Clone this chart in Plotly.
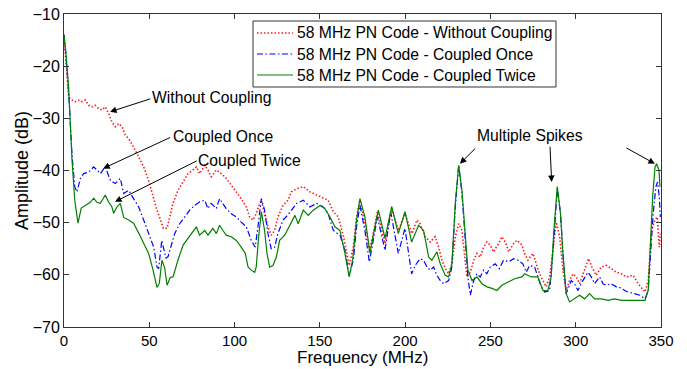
import plotly.graph_objects as go

# ---------------- data ----------------
freq_without = [0, 1, 2, 2.7, 4.7, 6.6, 8.6, 10.6, 12.5, 14.5, 16.4, 18.3, 20.3, 22.3, 24.2, 26.2, 28.1, 30.1, 32.1, 34,
                35.9, 37.9, 40.8, 43.8, 46.7, 49.6, 51.6, 54.5, 57, 58.3, 60.4, 62.3, 63.9, 66.8, 69.8, 72.7, 75.6, 77.6, 79.5, 82.5,
                84.4, 86.3, 89.3, 92.2, 95.1, 98.1, 101, 103.9, 106.9, 108.8, 110.8, 112.7, 114.7, 115.7, 117.6, 119.6, 121.5, 123.5, 125.4, 128.4,
                131.3, 133.3, 136.4, 140.3, 144.2, 148.1, 152, 154.9, 157.9, 160.8, 163.7, 165.7, 167.2, 169.6, 171.5, 173.5, 176.4, 179, 181.3, 183.7,
                188.2, 192.1, 196, 199.9, 204, 206.9, 208.8, 211.8, 214.7, 217.6, 219.6, 221.6, 223.5, 225.5, 227.4, 229.4, 231.4, 233.3, 234.9, 236.2,
                238.2, 240.2, 242.1, 244, 246, 247.9, 249.9, 251.8, 254.8, 256.7, 258.7, 260.7, 263.6, 265.5, 268.5, 270, 272, 274.9, 276.9, 278.8,
                280.8, 282.7, 284.7, 286.6, 288.6, 290.6, 292.5, 294.4, 296.4, 298.4, 300.3, 302.3, 305.2, 307.5, 309.5, 312, 315, 317.9, 320.8, 323.8,
                326.7, 329.8, 333.7, 336.6, 340.6, 342.5, 344.5, 346.4, 347.8, 349, 349.6]
amp_without = [-14, -18, -23, -25.9, -26.5, -26.8, -26.5, -26.8, -26.5, -27.5, -27.8, -27.5, -28.1, -28.4, -27.8, -29.1, -30.7, -31.6, -31, -31.6,
               -33.2, -33.9, -35.5, -37.4, -39.3, -41.9, -44.4, -47.6, -49.9, -51.1, -51.1, -48.3, -46.3, -43.8, -42.2, -40.6, -39.9, -39.3, -40.6, -39,
               -39.9, -41.2, -39.9, -40.6, -41.5, -42.8, -44.1, -45.4, -47, -48.9, -49.5, -48.3, -46.3, -45.7, -48.3, -50.8, -52.4, -51.5, -48.9, -46.7,
               -45.7, -44.1, -43.5, -43.1, -44.1, -44.7, -45.4, -45.7, -47.9, -48.9, -52.4, -55.9, -58.2, -54.7, -48.9, -45.7, -50.2, -55.3, -52.1, -47.9,
               -54, -47.3, -51.5, -48.3, -52.1, -49.5, -50.2, -52.7, -53.7, -52.7, -54.7, -57.2, -58.8, -59.8, -57.9, -52.7, -50.2, -51.5, -55.9, -60.4,
               -59.5, -57.2, -55.9, -56.6, -54.7, -53.7, -54.3, -55.6, -54, -52.7, -53.7, -55.6, -54, -53.4, -54.3, -55.9, -57.2, -55.9, -57.9, -59.8,
               -61.1, -62.3, -60.4, -54.7, -49.9, -52.7, -59.1, -63, -61.1, -59.8, -60.4, -61.7, -59.1, -56.9, -58.5, -60.1, -58.5, -58.2, -58.8, -59.5,
               -59.8, -60.4, -60.1, -61.7, -63.3, -61.1, -51.5, -49.5, -48.9, -54.7, -52.1]

freq_once = [0, 1, 2.7, 4.7, 6.3, 7.6, 9.6, 11.5, 14.5, 17.4, 19.3, 21.3, 24.2, 27.2, 30.1, 33, 35, 37.9, 40.8, 43.8,
             46.7, 49.6, 52.6, 54.5, 55.5, 57.3, 59.8, 61, 64.9, 67.8, 70.8, 73.7, 76.6, 79.5, 82.5, 84.4, 86.3, 89.3, 91.2, 93.2,
             95.1, 98.1, 101, 103.9, 106.9, 109.8, 112.1, 113.7, 115.7, 117.6, 119.6, 121.5, 123.5, 125.4, 128.4, 131.3, 136.4, 140.3, 144.2, 148.1,
             152, 154.9, 157.9, 161.8, 164.7, 167.2, 169.6, 171.5, 173.5, 176.4, 179, 181.3, 183.7, 188.2, 191.5, 196, 199.9, 203.8, 205.9, 208.8,
             210.8, 212.8, 214.7, 216.7, 218.6, 220.6, 222.6, 225.5, 227.4, 229.4, 231.4, 233.3, 234.9, 236.8, 238.2, 240.2, 242.1, 244, 246, 247.9,
             249.9, 252.8, 255.2, 257.7, 260.7, 263.6, 266.3, 269, 271, 273, 275.9, 277.8, 279.8, 281.8, 284.7, 286.6, 289.2, 291.1, 292.5, 294.4,
             297.4, 299.3, 301.3, 304.2, 307.2, 309.1, 311.1, 314, 316, 317.9, 320.8, 323.8, 326.5, 329.7, 333.7, 337.6, 340.6, 342.5, 343.9, 345.4,
             347, 348, 349, 349.6]
amp_once = [-14, -17.5, -25, -37, -43.1, -44.1, -41.5, -40.6, -40.3, -39.3, -39.9, -40.6, -39.3, -41.9, -42.5, -41.5, -44.4, -43.8, -45.4, -47,
            -49.5, -52.1, -54.7, -58.5, -58.8, -53.4, -56.8, -56.5, -52.1, -50.2, -48.9, -47.6, -46.7, -46, -45.7, -47.3, -46.3, -47.3, -45.4, -46.3,
            -47.3, -48.3, -48.9, -49.9, -50.8, -53.4, -54.7, -50.8, -45.4, -47.6, -52.1, -55, -54.7, -52.1, -49.5, -48.5, -46.3, -45.7, -47, -46.3,
            -47, -48.3, -51.5, -52.4, -55.3, -60.1, -57.2, -50.8, -46.7, -51.5, -57.5, -53.4, -48.9, -55.3, -47.9, -55.9, -51.1, -59.8, -58.2, -56.9,
            -57.2, -58.5, -59.1, -58.5, -60.1, -61.1, -61.7, -61.1, -58.5, -47, -39, -44.4, -51.5, -60.4, -63.9, -61.1, -59.8, -60.4, -59.1, -59.8,
            -58.5, -57.9, -58.8, -57.2, -57.5, -56.9, -57.2, -57.9, -59.5, -58.2, -58.5, -60.4, -62.3, -63.3, -63, -55.9, -43.5, -48.3, -55.9, -63.6,
            -61.1, -61.7, -63, -61.1, -59.5, -60.4, -61.7, -60.4, -61.7, -62, -61.7, -62.3, -62.5, -63.2, -63.6, -63.9, -64.6, -63, -55.9, -48.3,
            -43.1, -42.2, -45.1, -48.9]

freq_twice = [0, 1, 2.7, 4.7, 6.3, 8.2, 10.1, 12.5, 15.4, 17.4, 19.3, 21.3, 24.2, 26.2, 28.1, 29.1, 31, 33, 35, 37.9,
              40.8, 43.8, 46.7, 49.6, 52, 54.5, 55.9, 57.4, 59, 60.4, 62.3, 63.9, 66.8, 69.8, 72.7, 75.6, 77.6, 79.5, 82.5, 84.4,
              87.3, 89.3, 91.2, 93.2, 95.1, 98.1, 101, 103.9, 106.3, 107.9, 109.8, 111.8, 112.7, 114.1, 115.7, 117.6, 119, 120.6, 122.5, 124.5,
              126.4, 129.4, 132.5, 135.4, 137.3, 140.3, 143.2, 146.1, 150.1, 153, 155.9, 158.9, 161.8, 164.7, 167.2, 169.2, 171.5, 173.5, 176.4, 179.4,
              181.3, 184.3, 188.2, 192.1, 196, 199.9, 203.8, 207.9, 210.8, 213.8, 215.7, 218.6, 220.6, 223.5, 225.5, 227.4, 229.4, 231.4, 233.3, 234.9,
              236.8, 239.2, 242.1, 245, 248, 250.9, 253.8, 256.7, 260.7, 264.5, 268.5, 270, 273.9, 277.8, 280.8, 283.7, 285.6, 287.2, 289.2, 291.1,
              292.5, 294.4, 296.4, 299.3, 302.3, 305.2, 308.1, 311.1, 315, 318.9, 322.8, 326.7, 333.7, 340.6, 342.5, 343.9, 345.1, 346.5, 347.4, 348.8,
              349.4]
amp_twice = [-14, -17, -24, -38, -45.7, -50.1, -47.2, -46.7, -46.1, -45.3, -46.1, -46.3, -44.7, -46.1, -47, -48.2, -47, -46.3, -49, -49.5,
             -50.1, -52, -53.8, -55.9, -58.8, -62.4, -61.6, -57.2, -58.6, -62, -60.5, -60.4, -57.2, -54.3, -53, -51.8, -50.8, -52.4, -51.5, -52.4,
             -51.1, -52.1, -50.5, -51.5, -52.4, -52.7, -53.4, -54.7, -55.9, -58.5, -59.1, -59.5, -58.5, -52.7, -47.9, -51.5, -55.9, -58.5, -58.2, -56.6,
             -53.4, -52.4, -50.5, -48.6, -50.2, -47.6, -48.6, -47.6, -46.7, -47.3, -48.9, -50.8, -51.5, -55.9, -60.4, -57.2, -49.5, -45.4, -48.9, -55.9,
             -52.4, -47.6, -53, -46.9, -52.1, -47.9, -53.7, -50.5, -51.5, -56.6, -57.2, -55.6, -57.9, -60.1, -60.4, -57.9, -46.3, -39, -43.8, -51.5,
             -59.1, -61.1, -60.4, -61.7, -62.3, -62.6, -63, -62, -61.4, -60.7, -60.4, -59.8, -60.4, -60.4, -63, -63, -60.4, -51.5, -43.1, -48.3,
             -55.9, -63.6, -65.2, -64.6, -63.9, -64.6, -63.6, -64.6, -64.6, -64.9, -64.6, -64.9, -64.9, -64.9, -63, -52.7, -45.1, -39.3, -38.7, -39.9,
             -43.1]

series_names = ["58 MHz PN Code - Without Coupling",
                "58 MHz PN Code - Coupled Once",
                "58 MHz PN Code - Coupled Twice"]

x_ticks = [0, 50, 100, 150, 200, 250, 300, 350]
y_ticks = [-70, -60, -50, -40, -30, -20, -10]

FONT = "Liberation Sans, Arial, sans-serif"
AX = "#333333"

styles = [
    dict(color="#ff1a1a", width=1.6, dash="1.5px,2px"),
    dict(color="#0000ff", width=1.2, dash="6px,2.5px,1.5px,2.5px"),
    dict(color="#008000", width=1.2),
]

fig = go.Figure()
for fx, ay_, nm, st in zip([freq_without, freq_once, freq_twice],
                           [amp_without, amp_once, amp_twice], series_names, styles):
    fig.add_trace(go.Scatter(x=fx, y=ay_, mode="lines", name=nm, line=st, showlegend=False))

# text labels (left-anchored) and arrows
labels = [
    ("Without Coupling", 51.6, -26.0),
    ("Coupled Once", 64.1, -33.4),
    ("Coupled Twice", 78.7, -38.0),
    ("Multiple Spikes", 242.1, -33.2),
]
for txt, lx, ly in labels:
    fig.add_annotation(x=lx, y=ly, text=txt, showarrow=False, xanchor="left", yanchor="middle",
                       xshift=-2, font=dict(family=FONT, size=15.7, color="black"))

arrows = [  # tip (data), tail offset in px
    (27.0, -28.75, 41.7, -13.4),
    (23.0, -39.6, 68.4, -31.6),
    (29.9, -46.0, 83.3, -41.7),
    (232.1, -38.7, 16.7, -16.6),
    (285.9, -42.2, -1.7, -36.7),
    (346.4, -38.7, -30.0, -16.6),
]
for tx, ty, ax, ay in arrows:
    fig.add_annotation(x=tx, y=ty, ax=ax, ay=ay, text="", showarrow=True,
                       arrowhead=2, arrowsize=1.3, arrowwidth=1, arrowcolor="black")

# legend box drawn by hand (MATLAB-style)
fig.add_shape(type="rect", xref="paper", yref="paper", x0=0.3166, x1=0.8241, y0=0.7668, y1=0.9776,
              line=dict(color=AX, width=1), fillcolor="white", layer="above")
leg_rows = [0.9393, 0.8722, 0.8051]
for nm, st, yy in zip(series_names, styles, leg_rows):
    fig.add_shape(type="line", xref="paper", yref="paper", x0=0.3233, x1=0.3836, y0=yy, y1=yy,
                  line=st, layer="above")
    fig.add_annotation(xref="paper", yref="paper", x=0.3869, y=yy, text=nm, showarrow=False,
                       xanchor="left", yanchor="middle", font=dict(family=FONT, size=15.7, color="black"))

# axis titles as paper annotations for exact placement
fig.add_annotation(xref="paper", yref="paper", x=0.5008, y=-0.099, text="Frequency (MHz)",
                   showarrow=False, xanchor="center", yanchor="middle",
                   font=dict(family=FONT, size=17, color="black"))
fig.add_annotation(xref="paper", yref="paper", x=-0.0704, y=0.5016, text="Amplitude (dB)",
                   showarrow=False, xanchor="center", yanchor="middle", textangle=-90,
                   font=dict(family=FONT, size=18, color="black"))

fig.update_layout(
    width=687, height=369,
    margin=dict(l=64, r=26, t=14, b=42),
    paper_bgcolor="white", plot_bgcolor="white",
    font=dict(family=FONT, size=15, color="black"),
    showlegend=False,
)
fig.update_xaxes(range=[0, 350], tickvals=x_ticks, ticks="inside", ticklen=5, tickcolor=AX,
                 showline=True, linecolor=AX, linewidth=1, mirror="ticks", showgrid=False, zeroline=False,
                 automargin=False, tickfont=dict(size=15))
fig.update_yaxes(range=[-70, -10], tickvals=y_ticks, ticks="inside", ticklen=5, tickcolor=AX,
                 showline=True, linecolor=AX, linewidth=1, mirror="ticks", showgrid=False, zeroline=False,
                 automargin=False, tickfont=dict(size=16))

fig.write_html("out.html")
